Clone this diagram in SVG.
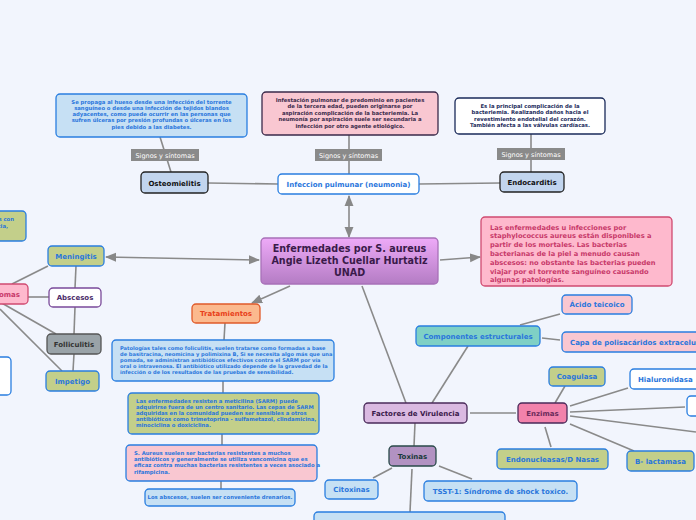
<svg xmlns="http://www.w3.org/2000/svg" width="696" height="520" viewBox="0 0 696 520">
<defs>
<linearGradient id="cg" x1="0" y1="0" x2="0" y2="1"><stop offset="0" stop-color="#eeaaf8"/><stop offset="1" stop-color="#b47cc4"/></linearGradient>
<marker id="ah" viewBox="0 0 10 10" refX="9" refY="5" markerWidth="7" markerHeight="7" orient="auto-start-reverse"><path d="M0,1 L10,5 L0,9 z" fill="#888"/></marker>
<style>
text{font-family:"DejaVu Sans","Verdana",sans-serif;font-weight:bold}
.c line{stroke:#8a8a8a;stroke-width:1.6;fill:none}
.b rect{rx:4;stroke-width:1.3}
.lbl{font-size:7px;text-anchor:middle}
.sm{font-size:5.3px}
.mid{text-anchor:middle}
.blue{fill:#2a76dc}
.sig rect{fill:#8a8a8a;stroke:none}
.sig text{font-size:6.5px;fill:#fff;font-weight:normal;text-anchor:middle}
</style>
</defs>
<rect width="696" height="520" fill="#f2f5fd"/>
<g class="c">
<line x1="160" y1="137" x2="171" y2="172"/>
<line x1="208" y1="183" x2="278" y2="184"/>
<line x1="419" y1="184" x2="500" y2="183"/>
<line x1="349" y1="135" x2="349" y2="174"/>
<line x1="531" y1="134" x2="531" y2="172"/>
<line x1="349" y1="196" x2="349" y2="237" marker-start="url(#ah)" marker-end="url(#ah)"/>
<line x1="440" y1="260" x2="480" y2="257" marker-end="url(#ah)"/>
<line x1="259" y1="260" x2="106" y2="257" marker-start="url(#ah)" marker-end="url(#ah)"/>
<line x1="290" y1="286" x2="252" y2="303" marker-end="url(#ah)"/>
<line x1="362" y1="286" x2="406" y2="403"/>
<line x1="76" y1="266" x2="75" y2="288"/>
<line x1="75" y1="307" x2="74" y2="334"/>
<line x1="74" y1="354" x2="73" y2="371"/>
<line x1="12" y1="284" x2="48" y2="266"/>
<line x1="28" y1="297" x2="49" y2="297"/>
<line x1="0" y1="302" x2="56" y2="334"/>
<line x1="0" y1="309" x2="62" y2="371"/>
<line x1="225" y1="323" x2="224" y2="340"/>
<line x1="223" y1="381" x2="223" y2="393"/>
<line x1="222" y1="434" x2="222" y2="445"/>
<line x1="221" y1="481" x2="221" y2="489"/>
<line x1="432" y1="403" x2="468" y2="346"/>
<line x1="520" y1="325" x2="560" y2="314"/>
<line x1="542" y1="338" x2="560" y2="340"/>
<line x1="470" y1="413" x2="516" y2="413"/>
<line x1="415" y1="423" x2="414" y2="446"/>
<line x1="555" y1="403" x2="565" y2="386"/>
<line x1="570" y1="406" x2="628" y2="388"/>
<line x1="570" y1="412" x2="685" y2="407"/>
<line x1="570" y1="416" x2="696" y2="432"/>
<line x1="570" y1="424" x2="634" y2="451"/>
<line x1="545" y1="427" x2="551" y2="447"/>
<line x1="392" y1="468" x2="373" y2="478"/>
<line x1="439" y1="466" x2="472" y2="479"/>
<line x1="412" y1="469" x2="410" y2="512"/>
</g>
<g class="sig">
<rect x="131" y="149" width="68" height="12"/><text x="165" y="157.5">Signos y síntomas</text>
<rect x="315" y="149" width="67" height="12"/><text x="348.5" y="157.5">Signos y síntomas</text>
<rect x="497" y="148" width="68" height="12"/><text x="531" y="156.5">Signos y síntomas</text>
</g>
<g class="b">
<g id="osteo-desc"><rect x="56" y="94" width="191" height="43" fill="#c6e0f4" stroke="#2a7ee0"/>
<text class="sm mid blue" x="151.5"><tspan x="151.5" y="103.5">Se propaga al hueso desde una infección del torrente</tspan><tspan x="151.5" y="109.8">sanguíneo o desde una infección de tejidos blandos</tspan><tspan x="151.5" y="116.1">adyacentes, como puede ocurrir en las personas que</tspan><tspan x="151.5" y="122.4">sufren úlceras por presión profundas o úlceras en los</tspan><tspan x="151.5" y="128.7">pies debido a las diabetes.</tspan></text></g>
<g id="osteomielitis"><rect x="141" y="172" width="67" height="21" fill="#c2d5ee" stroke="#222"/><text class="lbl" x="174.5" y="185.5" fill="#111">Osteomielitis</text></g>
<g id="neumonia-desc"><rect x="262" y="92" width="176" height="43" fill="#f9c7d1" stroke="#3a2a4a"/>
<text class="sm mid" fill="#3a2a4a"><tspan x="350" y="101.5">Infestación pulmonar de predominio en pacientes</tspan><tspan x="350" y="108">de la tercera edad, pueden originarse por</tspan><tspan x="350" y="114.5">aspiración complicación de la bacteriemia. La</tspan><tspan x="350" y="121">neumonía por aspiración suele ser secundaria a</tspan><tspan x="350" y="127.5">infección por otro agente etiológico.</tspan></text></g>
<g id="neumonia"><rect x="278" y="174" width="141" height="20" fill="#fff" stroke="#2a7ee0"/><text class="lbl blue" x="348.5" y="186.8">Infeccion pulmunar (neumonia)</text></g>
<g id="endo-desc"><rect x="455" y="98" width="150" height="36" fill="#fff" stroke="#1a2a5a"/>
<text class="sm mid" fill="#1a2a5a"><tspan x="530" y="107.5">Es la principal complicación de la</tspan><tspan x="530" y="114">bacteriemia. Realizando daños hacia el</tspan><tspan x="530" y="120.5">revestimiento endotelial del corazón.</tspan><tspan x="530" y="127">También afecta a las válvulas cardíacas.</tspan></text></g>
<g id="endocarditis"><rect x="500" y="172" width="64" height="20" fill="#c2d5ee" stroke="#222"/><text class="lbl" x="532" y="184.8" fill="#111">Endocarditis</text></g>
<g id="center"><rect x="261" y="238" width="177" height="46" fill="url(#cg)" stroke="#a870b8"/>
<text class="mid" font-size="9.6" fill="#3a1a4a"><tspan x="349.5" y="252">Enfermedades por S. aureus</tspan><tspan x="349.5" y="264">Angie Lizeth Cuellar Hurtatiz</tspan><tspan x="349.5" y="276">UNAD</tspan></text></g>
<g id="resumen"><rect x="481" y="217" width="191" height="69" fill="#feb9cd" stroke="#d04a70"/>
<text font-size="6.7" fill="#c83a6a"><tspan x="490" y="229.5">Las enfermedades u infecciones por</tspan><tspan x="490" y="238.3">staphylococcus aureus están disponibles a</tspan><tspan x="490" y="247.1">partir de los mortales. Las bacterias</tspan><tspan x="490" y="255.9">bacterianas de la piel a menudo causan</tspan><tspan x="490" y="264.7">abscesos: no obstante las bacterias pueden</tspan><tspan x="490" y="273.5">viajar por el torrente sanguíneo causando</tspan><tspan x="490" y="282.3">algunas patologías.</tspan></text></g>
<g id="left-top"><rect x="-20" y="211" width="46" height="30" fill="#c3cf8a" stroke="#2a7ee0"/><text class="sm blue" text-anchor="end"><tspan x="14" y="221">s con</tspan><tspan x="8" y="227.5">cia,</tspan></text></g>
<g id="sintomas"><rect x="-20" y="284" width="48" height="20" fill="#feb9cd" stroke="#d04a70"/><text class="lbl" x="20" y="296.8" fill="#c83a6a" style="text-anchor:end">Síntomas</text></g>
<g id="left-white"><rect x="-20" y="357" width="31" height="38" fill="#fff" stroke="#2a7ee0"/></g>
<g id="meningitis"><rect x="48" y="246" width="56" height="20" fill="#c3cf8a" stroke="#2a7ee0"/><text class="lbl blue" x="76" y="258.8">Meningitis</text></g>
<g id="abscesos"><rect x="49" y="288" width="52" height="19" fill="#fff" stroke="#7a4a9a"/><text class="lbl" x="75" y="300.3" fill="#4a2a6a">Abscesos</text></g>
<g id="foliculitis"><rect x="47" y="334" width="54" height="20" fill="#9aa3a8" stroke="#555"/><text class="lbl" x="74" y="346.8" fill="#333">Folliculitis</text></g>
<g id="impetigo"><rect x="46" y="371" width="53" height="20" fill="#c3cf8a" stroke="#2a7ee0"/><text class="lbl blue" x="72.5" y="383.8">Impetigo</text></g>
<g id="tratamientos"><rect x="192" y="304" width="68" height="19" fill="#fbb98e" stroke="#e05a2a"/><text class="lbl" x="226" y="316.3" fill="#e8401a">Tratamientos</text></g>
<g id="trat1"><rect x="112" y="340" width="222" height="41" fill="#c6e0f4" stroke="#2a7ee0"/>
<text class="blue" font-size="5.1"><tspan x="120" y="349.5">Patologías tales como foliculitis, suelen tratarse como formadas a base</tspan><tspan x="120" y="355.7">de basitracina, neomicina y polimixina B, Si se necesita algo más que una</tspan><tspan x="120" y="361.9">pomada, se administran antibióticos efectivos contra el SARM por vía</tspan><tspan x="120" y="368.1">oral o intravenosa. El antibiótico utilizado depende de la gravedad de la</tspan><tspan x="120" y="374.3">infección o de los resultados de las pruebas de sensibilidad.</tspan></text></g>
<g id="trat2"><rect x="128" y="393" width="191" height="41" fill="#c3cf8a" stroke="#2a7ee0"/>
<text class="sm blue"><tspan x="136" y="402.5">Las enfermedades resisten a meticilina (SARM) puede</tspan><tspan x="136" y="408.7">adquirirse fuera de un centro sanitario. Las cepas de SARM</tspan><tspan x="136" y="414.9">adquiridas en la comunidad pueden ser sensibles a otros</tspan><tspan x="136" y="421.1">antibióticos como trimetoprina - sulfametazol, clindamicina,</tspan><tspan x="136" y="427.3">minociclina o doxiciclina.</tspan></text></g>
<g id="trat3"><rect x="126" y="445" width="191" height="36" fill="#f9c7d1" stroke="#2a7ee0"/>
<text class="sm blue"><tspan x="134" y="454.5">S. Aureus suelen ser bacterias resistentes a muchos</tspan><tspan x="134" y="460.9">antibióticos y generalmente se utiliza vancomicina que es</tspan><tspan x="134" y="467.3">eficaz contra muchas bacterias resistentes a veces asociado a</tspan><tspan x="134" y="473.7">rifampicina.</tspan></text></g>
<g id="trat4"><rect x="145" y="489" width="150" height="17" fill="#c6e0f4" stroke="#2a7ee0"/><text class="sm mid blue" x="220" y="499.3">Los abscesos, suelen ser conveniente drenarios.</text></g>
<g id="componentes"><rect x="416" y="326" width="124" height="20" fill="#7fd0c5" stroke="#2a7ee0"/><text class="lbl blue" x="478" y="338.8">Componentes estructurales</text></g>
<g id="acido"><rect x="562" y="295" width="70" height="19" fill="#f9c7d1" stroke="#2a7ee0"/><text class="lbl blue" x="597" y="307.3">Ácido teicoico</text></g>
<g id="capa"><rect x="562" y="332" width="150" height="20" fill="#f9c7d1" stroke="#2a7ee0"/><text class="lbl blue" x="570" y="344.8" style="text-anchor:start">Capa de polisacáridos extracelulares</text></g>
<g id="factores"><rect x="364" y="403" width="103" height="20" fill="#dab9e1" stroke="#4a2a5a"/><text class="lbl" x="415.5" y="415.8" fill="#3a1a4a">Factores de Virulencia</text></g>
<g id="enzimas"><rect x="518" y="403" width="49" height="20" fill="#f282ab" stroke="#4a2a5a"/><text class="lbl" x="542.5" y="415.8" fill="#6a2a5a">Enzimas</text></g>
<g id="coagulasa"><rect x="549" y="367" width="56" height="19" fill="#c3cf8a" stroke="#2a7ee0"/><text class="lbl blue" x="577" y="379.3">Coagulasa</text></g>
<g id="hialuronidasa"><rect x="630" y="369" width="80" height="20" fill="#fff" stroke="#2a7ee0"/><text class="lbl blue" x="638" y="381.8" style="text-anchor:start">Hialuronidasa</text></g>
<g id="enz-white"><rect x="687" y="396" width="30" height="20" fill="#fff" stroke="#2a7ee0"/></g>
<g id="endonucleasas"><rect x="497" y="449" width="111" height="20" fill="#c3cf8a" stroke="#2a7ee0"/><text class="lbl blue" x="552.5" y="461.8">Endonucleasas/D Nasas</text></g>
<g id="blactamasa"><rect x="627" y="451" width="67" height="20" fill="#c3cf8a" stroke="#2a7ee0"/><text class="lbl blue" x="660.5" y="463.8">B- lactamasa</text></g>
<g id="toxinas"><rect x="389" y="446" width="47" height="20" fill="#b292c2" stroke="#2a4a4a"/><text class="lbl" x="412.5" y="458.8" fill="#1a3a3a">Toxinas</text></g>
<g id="citoxinas"><rect x="325" y="480" width="53" height="19" fill="#c6e0f4" stroke="#2a7ee0"/><text class="lbl blue" x="351.5" y="492.3">Citoxinas</text></g>
<g id="tsst"><rect x="424" y="481" width="153" height="20" fill="#c6e0f4" stroke="#2a7ee0"/><text class="lbl blue" x="500.5" y="493.8">TSST-1: Síndrome de shock toxico.</text></g>
<g id="toxinas-bottom"><rect x="314" y="512" width="191" height="20" fill="#c6e0f4" stroke="#2a7ee0"/></g>
</g>
</svg>
